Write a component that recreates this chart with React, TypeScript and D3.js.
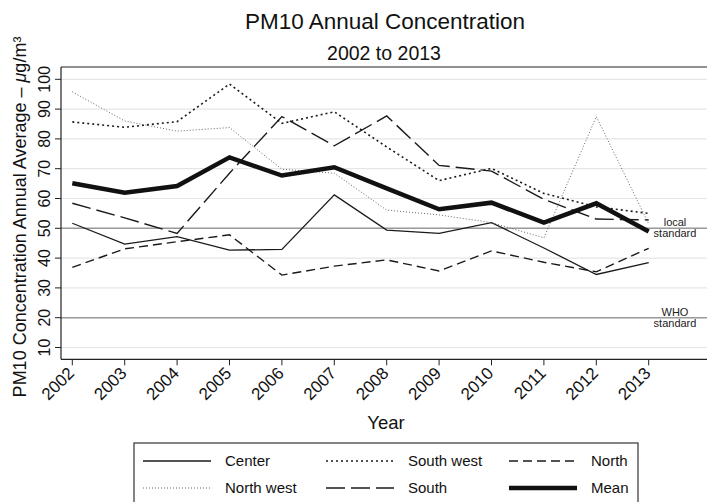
import React from "react";
import * as d3 from "d3";

const years = [2002, 2003, 2004, 2005, 2006, 2007, 2008, 2009, 2010, 2011, 2012, 2013];
const center = [51.7, 44.7, 47.2, 42.7, 42.9, 61.2, 49.4, 48.3, 51.9, 43.4, 34.5, 38.5];
const southWest = [85.7, 83.9, 85.8, 98.4, 85.2, 89.1, 77.3, 66.0, 70.1, 61.7, 57.2, 55.0];
const north = [36.9, 43.1, 45.5, 47.8, 34.3, 37.3, 39.4, 35.7, 42.4, 38.6, 35.4, 43.3];
const northWest = [95.8, 86.0, 82.6, 83.8, 69.8, 68.5, 56.1, 54.5, 51.9, 46.8, 87.5, 51.5];
const south = [58.4, 53.5, 48.3, 68.5, 87.5, 77.7, 87.7, 71.1, 69.2, 59.7, 53.1, 52.8];
const mean = [65.1, 61.9, 64.2, 73.8, 67.7, 70.5, 63.4, 56.4, 58.6, 51.9, 58.4, 48.9];
const yTicks = [10, 20, 30, 40, 50, 60, 70, 80, 90, 100];
const refLines = [
  { value: 50, label: ["local", "standard"] },
  { value: 20, label: ["WHO", "standard"] },
];

const FONT = "'Liberation Sans', Arial, Helvetica, sans-serif";

type Style = { width: number; dash: string; color: string };
const seriesList: { name: string; values: number[]; style: Style }[] = [
  { name: "Center", values: center, style: { width: 1.3, dash: "", color: "#1a1a1a" } },
  { name: "South west", values: southWest, style: { width: 1.6, dash: "2,3", color: "#1a1a1a" } },
  { name: "North", values: north, style: { width: 1.4, dash: "9,5", color: "#1a1a1a" } },
  { name: "North west", values: northWest, style: { width: 1, dash: "1,2", color: "#666" } },
  { name: "South", values: south, style: { width: 1.4, dash: "19,6", color: "#1a1a1a" } },
  { name: "Mean", values: mean, style: { width: 4.5, dash: "", color: "#111" } },
];

export default function App() {
  const W = 707;
  const H = 502;
  const left = 61;
  const top = 67;
  const bottom = 359.3;
  const x = d3.scaleLinear().domain([2002, 2013]).range([72.3, 648.7]);
  const y = d3.scaleLinear().domain([50, 100]).range([228.3, 79.3]);

  const line = (vals: number[]) =>
    d3
      .line<number>()
      .x((_, i) => x(years[i]))
      .y((v) => y(v))(vals) || "";

  const legendCols = [143, 326, 509];
  const legendRows = [461, 488];
  const lineLen = 68;

  return (
    <div style={{ position: "absolute", left: 0, top: 0 }}>
      <svg width={W} height={H} style={{ display: "block", fontFamily: FONT }}>
        <rect x={0} y={0} width={W} height={H} fill="#fff" />
        <text x={385} y={29} textAnchor="middle" fontSize={22.5} fill="#111">
          PM10 Annual Concentration
        </text>
        <text x={384} y={60} textAnchor="middle" fontSize={19.5} fill="#111">
          2002 to 2013
        </text>

        {/* gridlines */}
        {yTicks.map((t) => (
          <line key={"g" + t} x1={left} x2={W} y1={y(t)} y2={y(t)} stroke="#e6e6e6" strokeWidth={1.2} />
        ))}
        {refLines.map((r) => (
          <line key={"r" + r.value} x1={left} x2={W} y1={y(r.value)} y2={y(r.value)} stroke="#9a9a9a" strokeWidth={1.5} />
        ))}
        {refLines.map((r) => (
          <text key={"rl" + r.value} textAnchor="middle" fontSize={11} fill="#222">
            <tspan x={675} y={y(r.value) - 2}>{r.label[0]}</tspan>
            <tspan x={675} y={y(r.value) + 9}>{r.label[1]}</tspan>
          </text>
        ))}

        {/* series */}
        <g fill="none" strokeLinejoin="miter">
          {seriesList.map((s) => (
            <path
              key={s.name}
              d={line(s.values)}
              stroke={s.style.color}
              strokeWidth={s.style.width}
              strokeDasharray={s.style.dash || undefined}
            />
          ))}
        </g>

        {/* plot border */}
        <line x1={left} x2={left} y1={top} y2={bottom} stroke="#222" strokeWidth={1.2} />
        <line x1={left} x2={W} y1={top} y2={top} stroke="#222" strokeWidth={1.2} />
        <line x1={left} x2={W} y1={bottom} y2={bottom} stroke="#222" strokeWidth={1.2} />

        {/* y axis */}
        {yTicks.map((t) => (
          <g key={"yt" + t}>
            <line x1={left - 6} x2={left} y1={y(t)} y2={y(t)} stroke="#222" strokeWidth={1} />
            <text
              transform={`translate(${left - 11},${y(t)}) rotate(-90)`}
              textAnchor="middle"
              fontSize={16}
              fill="#111"
            >
              {t}
            </text>
          </g>
        ))}
        <text
          transform={`translate(26,${217}) rotate(-90)`}
          textAnchor="middle"
          fontSize={18}
          fill="#111"
        >
          PM10 Concentration Annual Average – <tspan fontStyle="italic">μ</tspan>g/m³
        </text>

        {/* x axis */}
        {years.map((yr) => (
          <g key={"xt" + yr}>
            <line x1={x(yr)} x2={x(yr)} y1={bottom} y2={bottom + 6} stroke="#222" strokeWidth={1} />
            <text
              transform={`translate(${x(yr) + 3},${bottom + 15}) rotate(-45)`}
              textAnchor="end"
              fontSize={17}
              fill="#111"
            >
              {yr}
            </text>
          </g>
        ))}
        <text x={386} y={429} textAnchor="middle" fontSize={18.5} fill="#111">
          Year
        </text>

        {/* legend */}
        <rect x={134} y={443} width={504} height={70} fill="#fff" stroke="#333" strokeWidth={1.2} />
        {seriesList.map((s, i) => {
          const cx = legendCols[i % 3];
          const cy = legendRows[Math.floor(i / 3)];
          return (
            <g key={"lg" + s.name}>
              <line
                x1={cx}
                x2={cx + lineLen}
                y1={cy}
                y2={cy}
                stroke={s.style.color}
                strokeWidth={s.style.width}
                strokeDasharray={s.style.dash || undefined}
              />
              <text x={cx + 82} y={cy + 5} fontSize={15} fill="#111">
                {s.name}
              </text>
            </g>
          );
        })}
      </svg>
    </div>
  );
}
